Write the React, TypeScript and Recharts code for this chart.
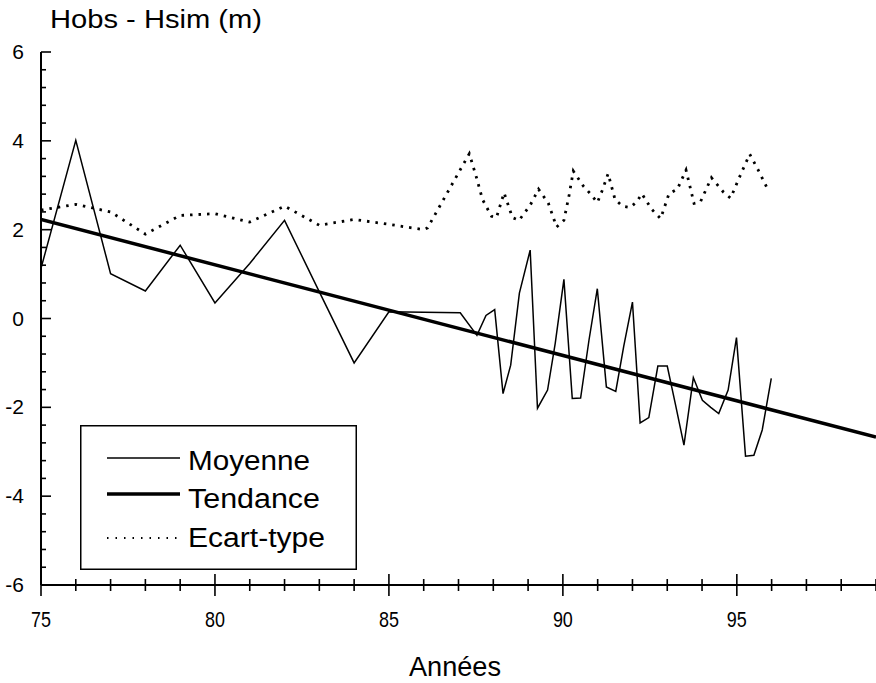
import { LineChart, Line, XAxis, YAxis, Legend } from 'recharts';

// values
const moyenneYears = [75, 76, 77, 78, 79, 80, 81, 82, 83, 84, 85, 86, 87.05, 87.53, 87.79, 88.04, 88.28, 88.5, 88.75, 89.06, 89.27, 89.56, 89.78, 90.03, 90.27, 90.51, 90.75, 90.99, 91.25, 91.52, 91.75, 92.0, 92.22, 92.47, 92.73, 93.0, 93.24, 93.48, 93.75, 94.01, 94.25, 94.48, 94.75, 94.99, 95.25, 95.49, 95.73, 95.99];
const moyenneValues = [1.13, 4.01, 1.01, 0.62, 1.65, 0.35, 1.24, 2.21, 0.6, -1.0, 0.15, 0.14, 0.13, -0.38, 0.07, 0.2, -1.69, -1.05, 0.57, 1.54, -2.02, -1.61, -0.56, 0.88, -1.8, -1.79, -0.49, 0.67, -1.54, -1.64, -0.62, 0.37, -2.35, -2.23, -1.07, -1.07, -1.95, -2.85, -1.33, -1.84, -2.0, -2.14, -1.61, -0.43, -3.1, -3.08, -2.51, -1.35];

const ecartYears = [75, 76, 77, 78, 79, 80, 81, 82, 83, 84, 85, 86, 86.11, 87.31, 87.5, 87.69, 87.95, 88.09, 88.31, 88.55, 88.74, 89.06, 89.3, 89.58, 89.82, 90.03, 90.18, 90.3, 90.59, 90.8, 90.99, 91.13, 91.3, 91.5, 91.71, 91.93, 92.12, 92.27, 92.55, 92.81, 93.05, 93.29, 93.54, 93.77, 93.95, 94.27, 94.61, 94.82, 95.13, 95.37, 95.63, 95.85];
const ecartValues = [2.44, 2.57, 2.4, 1.9, 2.32, 2.36, 2.17, 2.53, 2.1, 2.23, 2.12, 2.0, 2.04, 3.71, 3.22, 2.68, 2.3, 2.27, 2.83, 2.27, 2.21, 2.55, 2.91, 2.6, 2.06, 2.21, 2.78, 3.32, 2.98, 2.8, 2.61, 2.88, 3.26, 2.68, 2.53, 2.5, 2.62, 2.81, 2.46, 2.25, 2.81, 2.91, 3.34, 2.59, 2.62, 3.17, 2.85, 2.71, 3.28, 3.7, 3.32, 2.97];

const tendanceYears = [75, 99];
const tendanceValues = [2.23, -2.67];

const xLabels = [75, 80, 85, 90, 95];
const yLabels = [-6, -4, -2, 0, 2, 4, 6];
const seriesNames = ['Moyenne', 'Tendance', 'Ecart-type'];

const FONT = '"Liberation Sans", Arial, sans-serif';

const toPoints = (xs: number[], ys: number[]) => xs.map((x, i) => ({ year: x, v: ys[i] }));
const moyenneData = toPoints(moyenneYears, moyenneValues);
const ecartData = toPoints(ecartYears, ecartValues);
const tendanceData = toPoints(tendanceYears, tendanceValues);

// minor ticks every year / every 0.4 m
const xTicks = Array.from({ length: 25 }, (_, i) => 75 + i);
const yTicks = Array.from({ length: 31 }, (_, i) => Math.round((-6 + i * 0.4) * 10) / 10);

const XTick = (props: any) => {
    const { x, y, payload } = props;
    const major = xLabels.includes(payload.value);
    const len = major ? 11 : 6;
    return (
        <g>
            <line x1={x} x2={x} y1={y - len} y2={y + len} stroke="#000" strokeWidth={1.6} />
            {major && (
                <text x={x} y={y + 42} textAnchor="middle" fontSize={22} fontFamily={FONT} fill="#000"
                    textLength={20} lengthAdjust="spacingAndGlyphs">
                    {payload.value}
                </text>
            )}
        </g>
    );
};

const YTick = (props: any) => {
    const { x, y, payload } = props;
    const major = yLabels.some(v => Math.abs(v - payload.value) < 1e-6);
    const len = major ? 10 : 5;
    return (
        <g>
            <line x1={x} x2={x + len} y1={y} y2={y} stroke="#000" strokeWidth={1.6} />
            {major && (
                <text x={x - 17} y={y + 7} textAnchor="end" fontSize={21} fontFamily={FONT} fill="#000">
                    {payload.value}
                </text>
            )}
        </g>
    );
};

const LegendBox = () => (
    <svg width={277} height={145} style={{ display: 'block' }}>
        <rect x={0.75} y={0.75} width={275.5} height={143.5} fill="#fff" stroke="#000" strokeWidth={1.5} />
        <line x1={27} x2={100} y1={33} y2={33} stroke="#000" strokeWidth={1.5} />
        <line x1={27} x2={100} y1={69} y2={69} stroke="#000" strokeWidth={3.5} />
        <line x1={27} x2={100} y1={113} y2={113} stroke="#000" strokeWidth={2} strokeDasharray="1.5 7" />
        <text x={108} y={45} fontSize={27} fontFamily={FONT} textLength={122} lengthAdjust="spacingAndGlyphs">{seriesNames[0]}</text>
        <text x={108} y={83} fontSize={27} fontFamily={FONT} textLength={132} lengthAdjust="spacingAndGlyphs">{seriesNames[1]}</text>
        <text x={108} y={122} fontSize={27} fontFamily={FONT} textLength={137} lengthAdjust="spacingAndGlyphs">{seriesNames[2]}</text>
    </svg>
);

export default function App() {
    return (
        <div style={{ position: 'absolute', left: 0, top: 0, width: 876, height: 683, background: '#fff' }}>
            <LineChart width={876} height={683} margin={{ top: 52, right: 0, bottom: 0, left: 0 }}>
                <XAxis
                    type="number"
                    dataKey="year"
                    domain={[75, 99]}
                    ticks={xTicks}
                    interval={0}
                    height={98}
                    tickSize={0}
                    tickMargin={0}
                    tickLine={false}
                    tick={<XTick />}
                    axisLine={{ stroke: '#000', strokeWidth: 2 }}
                    allowDataOverflow
                />
                <YAxis
                    type="number"
                    domain={[-6, 6]}
                    ticks={yTicks}
                    interval={0}
                    width={41}
                    tickSize={0}
                    tickMargin={0}
                    tickLine={false}
                    tick={<YTick />}
                    axisLine={{ stroke: '#000', strokeWidth: 2 }}
                    allowDataOverflow
                />
                <Legend
                    layout="horizontal"
                    verticalAlign="middle"
                    align="center"
                    content={<LegendBox />}
                    wrapperStyle={{ left: 80, top: 425, width: 277, height: 145, bottom: 'auto' }}
                />
                <Line data={ecartData} dataKey="v" name={seriesNames[2]} type="linear" stroke="#000" strokeWidth={2.8}
                    strokeDasharray="2.5 6" dot={false} activeDot={false} isAnimationActive={false} />
                <Line data={moyenneData} dataKey="v" name={seriesNames[0]} type="linear" stroke="#000" strokeWidth={1.5}
                    dot={false} activeDot={false} isAnimationActive={false} />
                <Line data={tendanceData} dataKey="v" name={seriesNames[1]} type="linear" stroke="#000" strokeWidth={3.5}
                    dot={false} activeDot={false} isAnimationActive={false} />
            </LineChart>
            <svg width={876} height={683} style={{ position: 'absolute', left: 0, top: 0, pointerEvents: 'none' }}>
                <text x={50} y={28} fontSize={25} fontFamily={FONT} textLength={212} lengthAdjust="spacingAndGlyphs">
                    Hobs - Hsim (m)
                </text>
                <text x={455} y={676} textAnchor="middle" fontSize={27} fontFamily={FONT} textLength={92} lengthAdjust="spacingAndGlyphs">
                    Années
                </text>
            </svg>
        </div>
    );
}
